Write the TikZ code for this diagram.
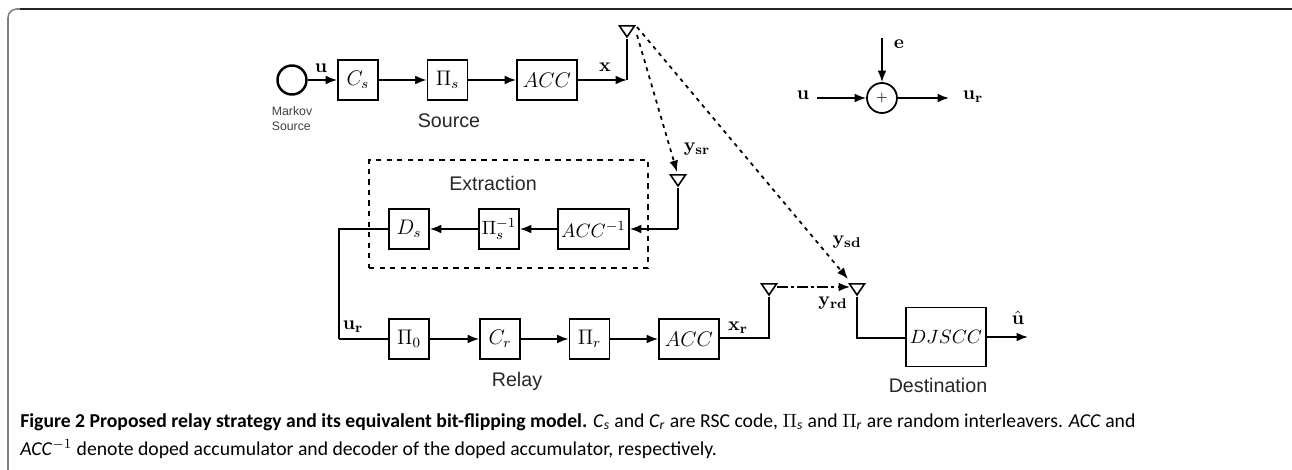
\documentclass[tikz,border=0pt]{standalone}
\usepackage{amsmath}
\usepackage[no-math]{fontspec}
\setmainfont{Carlito}
\setsansfont{Liberation Sans}
\usetikzlibrary{arrows.meta,shapes.geometric}

\tikzset{
    blk/.style={draw,line width=1pt,minimum height=0.8cm,inner sep=0pt,font=\fontsize{11.5}{11.5}\selectfont},
    ant/.style={draw,line width=0.9pt,isosceles triangle,shape border rotate=-90,isosceles triangle stretches,minimum width=0.3cm,minimum height=0.22cm,inner sep=0pt},
    lbl/.style={font=\fontsize{11}{11}\selectfont},
    tag/.style={font=\fontsize{11.2}{11.2}\selectfont\sffamily,text=black!85},
    sig/.style={line width=1pt,-{Latex[length=6.5pt,width=5pt]}},
    wire/.style={line width=1pt},
    air/.style={line width=1pt,dash pattern=on 2.2pt off 2.6pt,-{Latex[length=6.5pt,width=5pt]}},
    capt/.style={anchor=base west,inner sep=0pt,font=\fontsize{11.2}{11.2}\selectfont},
}

\begin{document}
\begin{tikzpicture}[x=0.02cm,y=-0.02cm]
    \useasboundingbox (0,0) rectangle (1292,470);

    % frame
    \draw[line width=0.9pt,black!50,rounded corners=5pt] (8,470) -- (8,9) -- (24,9);
    \draw[line width=0.8pt,black!85] (20,9) -- (1292,9);

    % source
    \node[draw,circle,line width=1.4pt,minimum size=0.58cm,inner sep=0pt] (M) at (292,80) {};
    \node[font=\fontsize{7}{8.6}\selectfont\sffamily,align=left,text=black!75] (Mt) at (292,119) {Markov\\Source};
    \node[blk,minimum width=0.8cm] (Cs) at (358,80) {$C_s$};
    \node[blk,minimum width=0.8cm] (Ps) at (447.5,80) {$\Pi_s$};
    \node[blk,minimum width=1.2cm] (A1) at (547,80) {$ACC$};
    \node[tag] (St) at (449,121) {Source};
    \coordinate (C1) at (627,80);
    \node[ant,anchor=apex] (T1) at (627,39) {};

    \draw[sig] (M) to (Cs);
    \draw[sig] (Cs) to (Ps);
    \draw[sig] (Ps) to (A1);
    \draw[sig] (A1) to (C1);
    \draw[wire] (C1) to (T1.apex);
    \node[lbl] (Lu) at (321,68) {$\mathbf{u}$};
    \node[lbl] (Lx) at (605,67) {$\mathbf{x}$};

    % extraction
    \node[draw,line width=0.9pt,dashed,minimum width=5.58cm,minimum height=2.16cm,inner sep=0pt] (Ex) at (508.5,214) {};
    \node[tag] (Et) at (493,183) {Extraction};
    \node[blk,minimum width=1.42cm,font=\fontsize{11}{11}\selectfont] (A2) at (593.5,229) {$ACC^{-1}$};
    \node[blk,minimum width=0.8cm,font=\fontsize{11}{11}\selectfont] (P2) at (499,229) {$\Pi_s^{-1}$};
    \node[blk,minimum width=0.8cm] (Ds) at (409,229) {$D_s$};
    \node[ant,anchor=apex] (T2) at (678,188) {};
    \coordinate (C2) at (678,229);
    \coordinate (C3) at (339,229);
    \coordinate (C4) at (339,339);

    \draw[wire] (T2.apex) to (C2);
    \draw[sig] (C2) to (A2);
    \draw[sig] (A2) to (P2);
    \draw[sig] (P2) to (Ds);
    \draw[wire] (Ds) -- (C3) -- (C4);

    % relay
    \node[blk,minimum width=0.8cm] (P0) at (409,339) {$\Pi_0$};
    \node[blk,minimum width=0.8cm] (Cr) at (500,339) {$C_r$};
    \node[blk,minimum width=0.8cm] (Pr) at (589.5,339) {$\Pi_r$};
    \node[blk,minimum width=1.2cm] (A3) at (689,339) {$ACC$};
    \node[tag] (Rt) at (517,381) {Relay};
    \node[ant,anchor=apex] (T3) at (769,297) {};
    \coordinate (C5) at (769,338);

    \draw[wire] (C4) to (P0);
    \draw[sig] (P0) to (Cr);
    \draw[sig] (Cr) to (Pr);
    \draw[sig] (Pr) to (A3);
    \draw[wire] (A3.east |- C5) -- (C5) -- (T3.apex);
    \node[lbl] (Lur) at (353,327) {$\mathbf{u_r}$};
    \node[lbl] (Lxr) at (738,328) {$\mathbf{x_r}$};

    % destination
    \node[blk,minimum width=1.6cm,minimum height=1.18cm,font=\fontsize{11}{11}\selectfont] (DJ) at (946,337) {$DJSCC$};
    \node[tag] (Dt) at (938,385) {Destination};
    \node[ant,anchor=apex] (T4) at (857,297) {};
    \coordinate (C6) at (857,338);
    \coordinate (C7) at (1028,337);

    \draw[wire] (T4.apex) -- (C6) -- (DJ.west |- C6);
    \draw[sig] (DJ) to (C7);
    \node[lbl] (Lh) at (1018,318) {$\hat{\mathbf{u}}$};

    % channels
    \coordinate (C8) at (637,35);
    \coordinate (C9) at (677,172);
    \coordinate (C10) at (637,27);
    \coordinate (C11) at (848,279);
    \coordinate (C12) at (777,287);
    \coordinate (C13) at (850,287);
    \draw[air] (C8) to (C9);
    \draw[air] (C10) to (C11);
    \draw[line width=1pt,dash pattern=on 6pt off 2pt on 1.5pt off 2pt,-{Latex[length=6.5pt,width=5pt]}] (C12) to (C13);
    \node[lbl] (Lsr) at (697,149) {$\mathbf{y_{sr}}$};
    \node[lbl] (Lsd) at (847,242) {$\mathbf{y_{sd}}$};
    \node[lbl] (Lrd) at (833,303) {$\mathbf{y_{rd}}$};

    % flipping model
    \node[draw,circle,line width=1pt,minimum size=0.6cm,inner sep=0pt,font=\fontsize{8.5}{8.5}\selectfont] (Sum) at (882,98) {$+$};
    \coordinate (I1) at (817,98);
    \coordinate (I2) at (882,38);
    \coordinate (O1) at (949,98);
    \draw[sig] (I1) to (Sum);
    \draw[sig] (I2) to (Sum);
    \draw[sig] (Sum) to (O1);
    \node[lbl] (Lu2) at (803,95) {$\mathbf{u}$};
    \node[lbl] (Le) at (899,44) {$\mathbf{e}$};
    \node[lbl] (Lu3) at (973,97) {$\mathbf{u_r}$};

    % caption
    \node[capt] (Cap1) at (20,427) {\textbf{Figure 2 Proposed relay strategy and its equivalent bit-flipping model.} \textit{C}$_{\text{\textit{s}}}$ and \textit{C}$_{\text{\textit{r}}}$ are RSC code, $\Pi_{\text{\textit{s}}}$ and $\Pi_{\text{\textit{r}}}$ are random interleavers. \textit{ACC} and};
    \node[capt] (Cap2) at (20,455) {\textit{ACC}$^{-1}$ denote doped accumulator and decoder of the doped accumulator, respectively.};
\end{tikzpicture}
\end{document}
